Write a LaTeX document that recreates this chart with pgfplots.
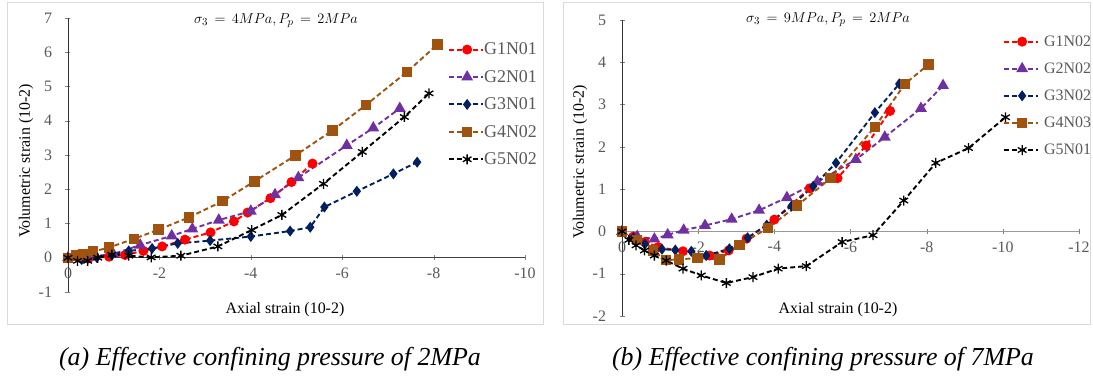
\documentclass[border=0pt]{standalone}
\usepackage{fontspec}
\setmainfont{Liberation Serif}
\usepackage{pgfplots}
\pgfplotsset{compat=1.18}
\definecolor{tgray}{HTML}{595959}
\definecolor{fgray}{HTML}{D9D9D9}
\definecolor{cred}{HTML}{FF0000}
\definecolor{cpur}{HTML}{7030A0}
\definecolor{cnav}{HTML}{002060}
\definecolor{cbro}{HTML}{A0520F}
\pgfplotsset{
  myaxis/.style={
    scale only axis, anchor=south west, clip=false,
    x dir=reverse,
    axis x line=middle, axis y line=middle,
    axis line style={-},
    hide obscured x ticks=false, hide obscured y ticks=false,
    tick label style={font=\fontsize{16}{16}\selectfont, text=tgray},
    xticklabel style={anchor=north, yshift=-4bp},
    yticklabel style={anchor=east, xshift=-10bp},
    major tick length=5bp,
    minor tick num=0,
    legend cell align=left,
    legend image code/.code={\draw[mark repeat=2,mark phase=2,##1] plot coordinates {(0bp,0bp) (18bp,0bp) (34bp,0bp)};},
  },
  ser/.style={line width=1.9bp, dash pattern=on 5bp off 3bp},
  s1/.style={ser, color=cred, mark=*, mark size=4bp, mark options={solid}},
  s2/.style={ser, color=cpur, mark=triangle*, mark size=5bp, mark options={solid}},
  s3/.style={ser, color=cnav, mark=diamond*, mark size=4bp, mark options={solid}},
  s4/.style={ser, color=cbro, mark=square*, mark size=4.3bp, mark options={solid}},
  s5/.style={ser, color=black, mark=asterisk, mark size=5bp, mark options={solid, line width=1.3bp}},
}
\begin{document}
\begin{tikzpicture}[x=1bp,y=1bp]
\useasboundingbox (0,0) rectangle (1093,381);
\fill[white] (0,0) rectangle (1093,381);
\draw[fgray, line width=1bp] (7,378) rectangle (543,57);
\draw[fgray, line width=1bp] (563,378) rectangle (1090,57);

% ---------- left panel
\begin{axis}[myaxis, at={(68bp,89bp)}, width=457bp, height=274bp,
  xmin=-10, xmax=0, ymin=-1, ymax=7,
  xtick={0,-2,-4,-6,-8,-10}, xticklabels={0,-2,-4,-6,-8,-10},
  ytick={-1,0,1,2,3,4,5,6,7}, yticklabels={-1,0,1,2,3,4,5,6,7},
  x axis line style={draw=black!75, line width=0.8bp},
  y axis line style={draw=black!80, line width=0.8bp},
  legend style={at={(axis description cs:0.8315,0.91)}, anchor=north west,
    draw=none, fill=none, inner sep=0pt, row sep=14bp, column sep=0bp,
    nodes={inner sep=0pt, text=tgray, font=\fontsize{18}{18}\selectfont}},
]
\addplot[s1] coordinates {(0,0) (-0.45,-0.02) (-0.9,0.03) (-1.25,0.08) (-1.65,0.2) (-2.06,0.33) (-2.56,0.53) (-3.12,0.74) (-3.63,1.06) (-3.93,1.32) (-4.43,1.74) (-4.89,2.21) (-5.35,2.75)};
\addlegendentry{G1N01}
\addplot[s2] coordinates {(0,0) (-0.5,0.03) (-0.99,0.11) (-1.58,0.37) (-2.27,0.64) (-2.72,0.84) (-3.3,1.1) (-4.0,1.36) (-4.53,1.84) (-5.04,2.34) (-6.1,3.28) (-6.68,3.79) (-7.26,4.36)};
\addlegendentry{G2N01}
\addplot[s3] coordinates {(0,0) (-0.3,-0.05) (-0.63,0.01) (-0.96,0.08) (-1.33,0.2) (-1.84,0.27) (-2.4,0.42) (-3.11,0.5) (-4.0,0.62) (-4.86,0.78) (-5.3,0.89) (-5.61,1.48) (-6.32,1.94) (-7.12,2.45) (-7.64,2.79)};
\addlegendentry{G3N01}
\addplot[s4] coordinates {(0,0) (-0.19,0.06) (-0.33,0.09) (-0.55,0.18) (-0.9,0.3) (-1.44,0.55) (-1.98,0.82) (-2.65,1.18) (-3.38,1.65) (-4.08,2.23) (-4.98,2.99) (-5.79,3.72) (-6.52,4.46) (-7.42,5.43) (-8.08,6.22)};
\addlegendentry{G4N02}
\addplot[s5] coordinates {(0,0) (-0.21,-0.09) (-0.43,-0.09) (-0.65,0) (-0.96,0.09) (-1.33,0.06) (-1.82,0.01) (-2.47,0.06) (-3.28,0.33) (-4.02,0.81) (-4.68,1.25) (-5.59,2.16) (-6.44,3.09) (-7.36,4.11) (-7.9,4.8)};
\addlegendentry{G5N02}
\end{axis}

% ---------- right panel
\begin{axis}[myaxis, at={(622bp,65bp)}, width=457bp, height=296bp,
  xmin=-12, xmax=0, ymin=-2, ymax=5,
  xtick={0,-2,-4,-6,-8,-10,-12}, xticklabels={0,-2,-4,-6,-8,-10,-12},
  ytick={-2,-1,0,1,2,3,4,5}, yticklabels={-2,-1,0,1,2,3,4,5},
  x axis line style={draw=black!40, line width=1.2bp},
  y axis line style={draw=black!80, line width=0.8bp},
  legend style={at={(axis description cs:0.8337,0.948)}, anchor=north west,
    draw=none, fill=none, inner sep=0pt, row sep=15bp, column sep=5bp,
    nodes={inner sep=0pt, text=tgray, font=\fontsize{16}{16}\selectfont}},
]
\addplot[s1] coordinates {(0,0) (-0.3,-0.12) (-0.6,-0.25) (-0.95,-0.37) (-1.6,-0.47) (-2.3,-0.57) (-2.8,-0.45) (-3.27,-0.17) (-4.0,0.28) (-4.93,1.02) (-5.66,1.26) (-6.41,2.03) (-7.04,2.85)};
\addlegendentry{G1N02}
\addplot[s2] coordinates {(0,0) (-0.4,-0.12) (-0.85,-0.18) (-1.2,-0.08) (-1.62,0.03) (-2.18,0.14) (-2.88,0.29) (-3.6,0.5) (-4.33,0.8) (-5.13,1.17) (-6.14,1.7) (-6.9,2.23) (-7.85,2.91) (-8.43,3.45)};
\addlegendentry{G2N02}
\addplot[s3] coordinates {(0,0) (-0.3,-0.15) (-0.6,-0.3) (-1.05,-0.42) (-1.4,-0.44) (-1.82,-0.47) (-2.21,-0.57) (-2.82,-0.41) (-3.3,-0.15) (-3.8,0.15) (-4.45,0.6) (-5.02,1.07) (-5.62,1.62) (-6.64,2.81) (-7.28,3.49)};
\addlegendentry{G3N02}
\addplot[s4] coordinates {(0,0) (-0.4,-0.2) (-0.81,-0.45) (-1.15,-0.68) (-1.5,-0.66) (-1.98,-0.63) (-2.56,-0.66) (-3.08,-0.32) (-3.83,0.08) (-4.6,0.61) (-5.48,1.26) (-6.64,2.47) (-7.43,3.49) (-8.05,3.95)};
\addlegendentry{G4N03}
\addplot[s5] coordinates {(0,0) (-0.18,-0.2) (-0.37,-0.33) (-0.59,-0.45) (-0.85,-0.57) (-1.16,-0.69) (-1.6,-0.88) (-2.08,-1.04) (-2.74,-1.22) (-3.44,-1.08) (-4.1,-0.88) (-4.84,-0.82) (-5.78,-0.25) (-6.59,-0.09) (-7.4,0.73) (-8.24,1.62) (-9.1,1.97) (-10.07,2.7)};
\addlegendentry{G5N01}
\end{axis}

% ---------- texts
\node[font=\fontsize{15}{15}\selectfont] at (276,360) {$\sigma_3\,=\,4MPa, P_p\,=\,2MPa$};
\node[font=\fontsize{15}{15}\selectfont] at (828,361) {$\sigma_3\,=\,9MPa, P_p\,=\,2MPa$};
\node[font=\fontsize{16}{16}\selectfont, rotate=90] at (26,220) {Volumetric strain (10-2)};
\node[font=\fontsize{16}{16}\selectfont, rotate=90] at (580,219) {Volumetric strain (10-2)};
\node[font=\fontsize{16}{16}\selectfont] at (285,71) {Axial strain (10-2)};
\node[font=\fontsize{16}{16}\selectfont] at (838,71) {Axial strain (10-2)};
\node[font=\fontsize{26}{26}\selectfont\itshape] at (270,22) {(a) Effective confining pressure of 2MPa};
\node[font=\fontsize{26}{26}\selectfont\itshape] at (823,22) {(b) Effective confining pressure of 7MPa};
\end{tikzpicture}
\end{document}
